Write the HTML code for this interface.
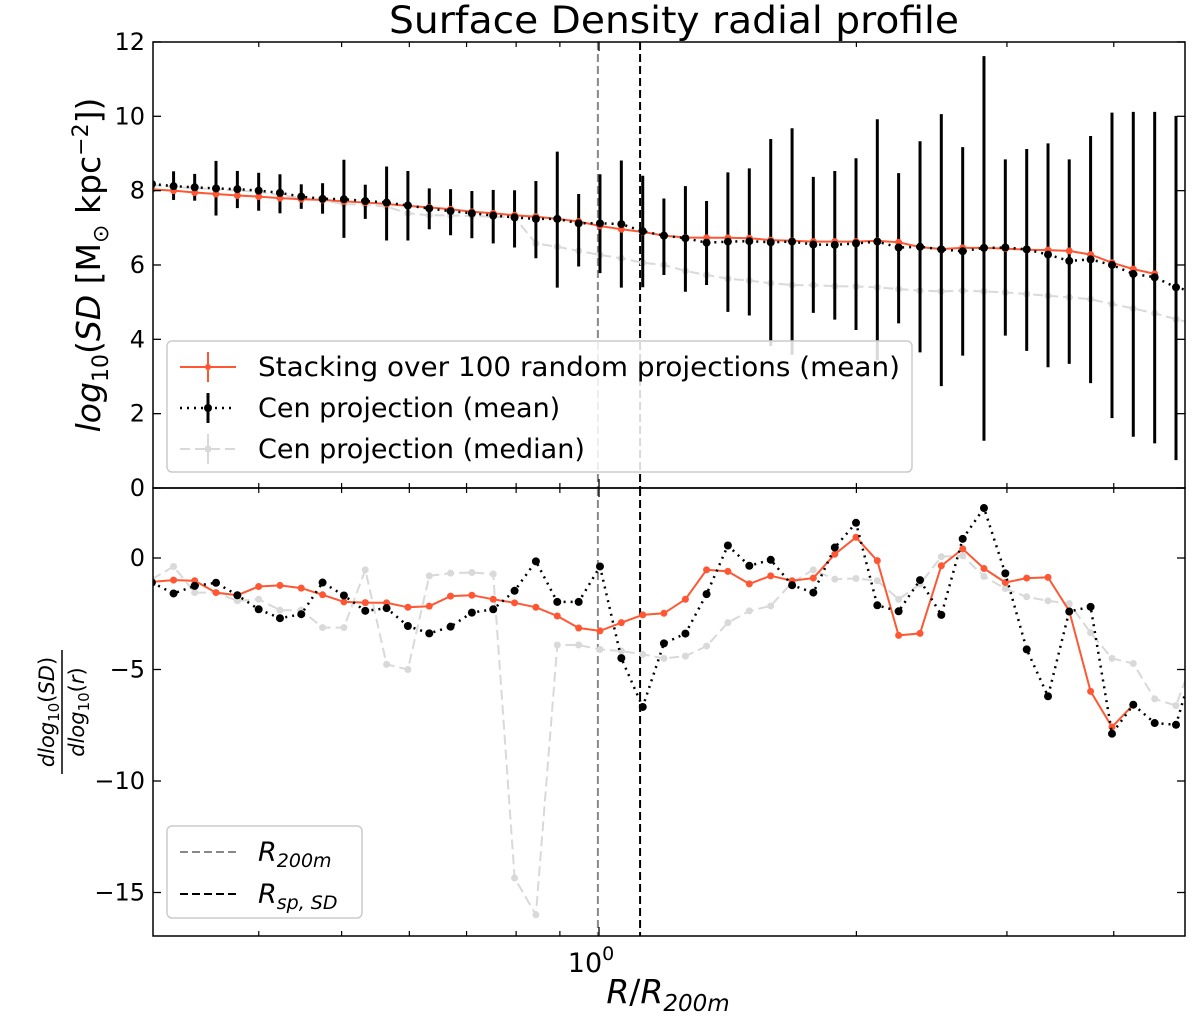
<!DOCTYPE html>
<html><head><meta charset="utf-8"><style>
html,body{margin:0;padding:0;background:#fff;}
svg{display:block;font-family:"DejaVu Sans","Liberation Sans",sans-serif;}
</style></head><body>
<svg id="chart" width="1200" height="1017" viewBox="0 0 1200 1017" xmlns="http://www.w3.org/2000/svg">
<text x="674" y="33" font-size="37" text-anchor="middle" textLength="570" lengthAdjust="spacingAndGlyphs">Surface Density radial profile</text>
<g id="top"></g>
<g id="bot"></g>
<text transform="translate(100,265) rotate(-90)" font-size="33" text-anchor="middle"><tspan font-style="italic">log</tspan><tspan font-size="22" dy="8">10</tspan><tspan dy="-8">(</tspan><tspan font-style="italic">SD</tspan> [M<tspan font-size="22" dy="8">⊙</tspan><tspan dy="-8"> kpc</tspan><tspan font-size="22" dy="-12">−2</tspan><tspan dy="12">])</tspan></text>
<g transform="translate(62,712) rotate(-90)" font-size="21" text-anchor="middle">
<text x="0" y="-8"><tspan font-style="italic">dlog</tspan><tspan font-size="15" dy="5">10</tspan><tspan dy="-5">(</tspan><tspan font-style="italic">SD</tspan>)</text>
<line x1="-62" y1="0" x2="62" y2="0" stroke="#000" stroke-width="1.5"/>
<text x="0" y="22"><tspan font-style="italic">dlog</tspan><tspan font-size="15" dy="5">10</tspan><tspan dy="-5">(</tspan><tspan font-style="italic">r</tspan>)</text>
</g>
<text x="668" y="1003" font-size="33" text-anchor="middle"><tspan font-style="italic">R</tspan>/<tspan font-style="italic">R</tspan><tspan font-size="23" dy="8" font-style="italic">200m</tspan></text>
</svg>
<script>
const radii=[0.300,0.318,0.3366,0.3565,0.3776,0.3999,0.4235,0.4485,0.4750,0.5031,0.5329,0.5644,0.5977,0.6331,0.6705,0.7101,0.7521,0.7966,0.8437,0.8937,0.9467,1.0026,1.062,1.125,1.191,1.262,1.336,1.415,1.499,1.588,1.682,1.781,1.887,1.998,2.116,2.241,2.374,2.514,2.663,2.820,2.987,3.164,3.351,3.548,3.758,3.981,4.216,4.466,4.730,5.010];
const sdStack=[8.03,8.00,7.95,7.91,7.87,7.84,7.80,7.77,7.75,7.71,7.68,7.64,7.59,7.55,7.50,7.43,7.39,7.34,7.30,7.24,7.17,7.05,6.96,6.89,6.79,6.74,6.73,6.73,6.72,6.67,6.65,6.63,6.63,6.63,6.65,6.61,6.48,6.43,6.46,6.46,6.44,6.41,6.40,6.38,6.28,6.06,5.89,5.76];
const sdMean=[8.18,8.12,8.09,8.06,8.04,8.00,7.94,7.84,7.78,7.77,7.72,7.68,7.60,7.52,7.45,7.39,7.33,7.28,7.24,7.24,7.12,7.12,7.10,6.91,6.79,6.72,6.60,6.63,6.64,6.61,6.63,6.55,6.54,6.58,6.63,6.47,6.49,6.42,6.37,6.46,6.47,6.42,6.28,6.11,6.15,6.00,5.76,5.67,5.40,5.25];
const sdMeanHi=[8.45,8.52,8.45,8.80,8.53,8.48,8.44,8.17,8.20,8.83,8.16,8.65,8.53,8.06,8.04,7.99,8.02,8.01,8.26,9.05,7.91,8.44,8.81,8.40,7.79,8.12,7.72,8.49,8.60,9.39,9.68,8.37,8.53,8.87,9.92,8.47,9.33,10.06,9.17,11.62,8.84,9.12,9.27,8.84,9.47,10.10,10.12,10.12,10.01,10.0];
const sdMeanLo=[7.85,7.75,7.73,7.33,7.53,7.46,7.39,7.51,7.38,6.73,7.24,6.66,6.66,6.96,6.80,6.72,6.58,6.47,6.18,5.39,5.96,5.78,5.39,5.40,5.73,5.28,5.46,4.74,4.64,3.82,3.58,4.71,4.53,4.25,3.44,4.43,3.65,2.74,3.56,1.27,4.10,3.69,3.25,3.34,2.82,1.88,1.38,1.20,0.75,1.0];
const sdMedian=[8.15,8.10,8.07,8.03,8.00,7.97,7.88,7.80,7.74,7.64,7.62,7.57,7.39,7.34,7.33,7.32,7.30,7.28,6.58,6.49,6.38,6.27,6.18,6.06,6.00,5.84,5.73,5.63,5.58,5.51,5.46,5.46,5.43,5.42,5.40,5.35,5.31,5.29,5.31,5.29,5.26,5.22,5.17,5.13,5.08,4.95,4.83,4.70,4.54,4.40];
const slopeStack=[-1.07,-0.99,-1.02,-1.55,-1.67,-1.28,-1.23,-1.35,-1.65,-1.97,-2.00,-2.01,-2.21,-2.16,-1.71,-1.67,-1.85,-2.01,-2.21,-2.60,-3.14,-3.27,-2.90,-2.55,-2.48,-1.85,-0.53,-0.60,-1.16,-0.80,-1.02,-0.90,0.17,0.93,-0.12,-3.47,-3.38,-0.35,0.41,-0.47,-1.10,-0.90,-0.87,-2.37,-5.98,-7.58,-6.58];
const slopeMean=[-1.10,-1.59,-1.25,-1.11,-1.67,-2.30,-2.70,-2.52,-1.10,-1.68,-2.37,-2.25,-3.05,-3.38,-3.08,-2.45,-2.30,-1.47,-0.15,-1.97,-1.97,-0.38,-4.49,-6.68,-3.83,-3.39,-1.62,0.56,-0.35,-0.08,-1.22,-1.55,0.47,1.58,-2.12,-2.39,-0.99,-2.55,0.86,2.24,-0.69,-4.10,-6.20,-2.40,-2.19,-7.88,-6.58,-7.40,-7.48,-4.2];
const slopeMedian=[-0.95,-0.38,-1.55,-1.55,-1.92,-1.85,-2.34,-2.34,-3.12,-3.12,-0.53,-4.77,-5.00,-0.80,-0.68,-0.65,-0.72,-14.35,-16.00,-3.90,-3.90,-4.10,-4.17,-4.32,-4.50,-4.40,-3.95,-2.90,-2.37,-2.15,-1.10,-0.53,-0.95,-0.92,-1.02,-1.85,-1.17,0.06,0.10,-0.83,-1.37,-1.74,-1.92,-2.04,-3.35,-4.50,-4.73,-6.32,-6.62,-4.0];
const topTicks=[0,2,4,6,8,10,12];
const botTicks=[0,-5,-10,-15];
const xMinorTicks=[0.4,0.5,0.6,0.7,0.8,0.9,2,3,4];
const vlineR200=0.997, vlineRsp=1.117;

const NS="http://www.w3.org/2000/svg";
const L=153,R=1185,T1=42,B1=488,T2=488,B2=936;
const X=r=>599+855*Math.log10(r);
const Y1=v=>488-37.17*v;
const Y2=v=>558-22.3*v;
function mk(p,tag,at){const e=document.createElementNS(NS,tag);for(const k in at)e.setAttribute(k,at[k]);p.appendChild(e);return e;}
const gTop=document.getElementById('top'),gBot=document.getElementById('bot');
const svgEl=document.getElementById('chart');
let defs=mk(svgEl,'defs',{});
let c1=mk(defs,'clipPath',{id:'c1'});mk(c1,'rect',{x:L,y:T1,width:R-L,height:B1-T1});
let c2=mk(defs,'clipPath',{id:'c2'});mk(c2,'rect',{x:L,y:T2,width:R-L,height:B2-T2});

function series(p,vals,yf,color,dash,rad,w,name){
  const g=mk(p,'g',{});
  
  
  let d='';vals.forEach((v,i)=>{d+=(i?'L':'M')+X(radii[i]).toFixed(1)+','+yf(v).toFixed(1);});
  const ln=mk(g,'path',{d:d,fill:'none',stroke:color,'stroke-width':w,'stroke-dasharray':dash||'none'});
  
  
  vals.forEach((v,i)=>{const c=mk(g,'circle',{cx:X(radii[i]),cy:yf(v),r:rad,fill:color});
    
    });
}
function panel(p,clip,yf,T,B,ticks,draw){
  const g=mk(p,'g',{'clip-path':'url(#'+clip+')'});
  draw(g);
  const fr=mk(p,'rect',{x:L,y:T,width:R-L,height:B-T,fill:'none',stroke:'#000','stroke-width':1.5});
  
  
  ticks.forEach(t=>{const y=yf(t);
    mk(p,'line',{x1:L,y1:y,x2:L+8,y2:y,stroke:'#000','stroke-width':1.3});
    mk(p,'line',{x1:R,y1:y,x2:R-8,y2:y,stroke:'#000','stroke-width':1.3});
    const tx=mk(p,'text',{x:L-8,y:y+8,'font-size':24,'text-anchor':'end'});tx.textContent=(t<0?'−'+(-t):t);
    
    });
  xMinorTicks.forEach(r=>{const x=X(r);
    mk(p,'line',{x1:x,y1:B,x2:x,y2:B-5,stroke:'#000','stroke-width':1.2});
    mk(p,'line',{x1:x,y1:T,x2:x,y2:T+5,stroke:'#000','stroke-width':1.2});});
  mk(p,'line',{x1:X(1),y1:B,x2:X(1),y2:B-9,stroke:'#000','stroke-width':1.3});
  mk(p,'line',{x1:X(1),y1:T,x2:X(1),y2:T+9,stroke:'#000','stroke-width':1.3});
}
function vlines(g,T,B){
  const a=mk(g,'line',{x1:X(vlineR200),y1:T,x2:X(vlineR200),y2:B,stroke:'#888','stroke-width':2,'stroke-dasharray':'8,4'});
  
  
  const b=mk(g,'line',{x1:X(vlineRsp),y1:T,x2:X(vlineRsp),y2:B,stroke:'#000','stroke-width':2,'stroke-dasharray':'8,4'});
  
  
}
panel(gTop,'c1',Y1,T1,B1,topTicks,g=>{
  vlines(g,T1,B1);
  series(g,sdMedian,Y1,'#d9d9d9','10,5',3.5,2,'median-profile');
  sdMeanHi.forEach((h,i)=>{const e=mk(g,'line',{x1:X(radii[i]),x2:X(radii[i]),y1:Y1(h),y2:Y1(sdMeanLo[i]),stroke:'#000','stroke-width':3});
    
    });
  series(g,sdStack,Y1,'#ff5733','',3.5,2,'stacking-profile');
  series(g,sdMean,Y1,'#000','2,5',4,2.5,'mean-profile');
});
panel(gBot,'c2',Y2,T2,B2,botTicks,g=>{
  vlines(g,T2,B2);
  series(g,slopeMedian,Y2,'#d9d9d9','10,5',3.5,2,'median-slope');
  series(g,slopeStack,Y2,'#ff5733','',3.5,2,'stacking-slope');
  series(g,slopeMean,Y2,'#000','2,5',4,2.5,'mean-slope');
});
const xl=mk(gBot,'text',{x:X(1)-8,y:972,'font-size':27,'text-anchor':'middle'});


xl.innerHTML='10<tspan font-size="19" dy="-12">0</tspan>';
</script>
<svg style="position:absolute;left:0;top:0" width="1200" height="1017">
<g font-family="DejaVu Sans, Liberation Sans, sans-serif" font-size="27">
<rect x="167" y="341" width="745" height="131" rx="5" fill="rgba(255,255,255,0.85)" stroke="#ccc" stroke-width="1.5"/>
<line x1="180" y1="367" x2="236" y2="367" stroke="#ff5733" stroke-width="2"/><line x1="208" y1="352" x2="208" y2="382" stroke="#ff5733" stroke-width="2"/><circle cx="208" cy="367" r="3" fill="#ff5733"/>
<text x="258" y="376" textLength="642" lengthAdjust="spacingAndGlyphs">Stacking over 100 random projections (mean)</text>
<line x1="180" y1="408" x2="236" y2="408" stroke="#000" stroke-width="2.5" stroke-dasharray="2,5"/><line x1="208" y1="393" x2="208" y2="423" stroke="#000" stroke-width="3"/><circle cx="208" cy="408" r="4" fill="#000"/>
<text x="258" y="417">Cen projection (mean)</text>
<line x1="180" y1="449" x2="236" y2="449" stroke="#d9d9d9" stroke-width="2" stroke-dasharray="10,5"/><line x1="208" y1="434" x2="208" y2="464" stroke="#d9d9d9" stroke-width="2"/><circle cx="208" cy="449" r="3.5" fill="#d9d9d9"/>
<text x="258" y="458">Cen projection (median)</text>
</g>
<g font-family="DejaVu Sans, Liberation Sans, sans-serif" font-size="27">
<rect x="167" y="826" width="195" height="92" rx="5" fill="rgba(255,255,255,0.85)" stroke="#ccc" stroke-width="1.5"/>
<line x1="180" y1="852" x2="236" y2="852" stroke="#888" stroke-width="2" stroke-dasharray="8,4"/>
<text x="258" y="861" font-style="italic">R<tspan font-size="19" dy="6">200m</tspan></text>
<line x1="180" y1="894" x2="236" y2="894" stroke="#000" stroke-width="2" stroke-dasharray="8,4"/>
<text x="258" y="903" font-style="italic">R<tspan font-size="19" dy="6">sp, SD</tspan></text>
</g>
</svg>
</body></html>
